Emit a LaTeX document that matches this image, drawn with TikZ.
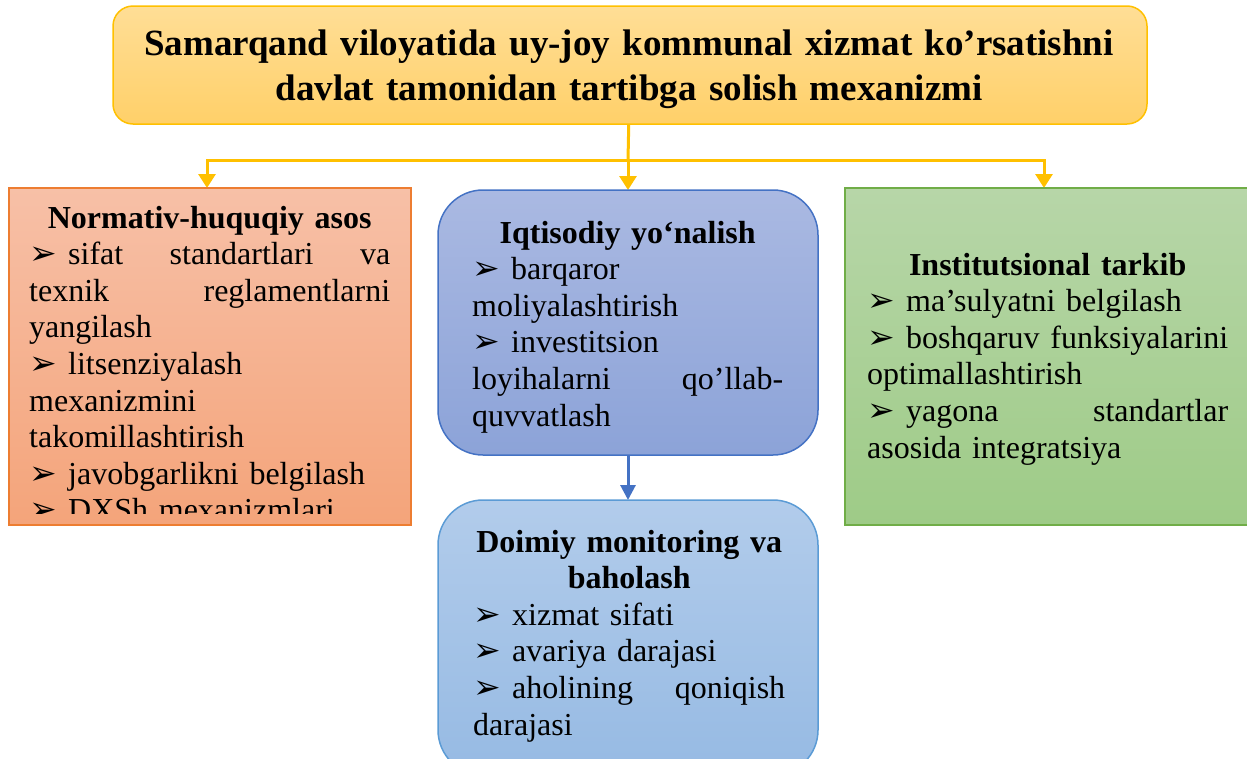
\documentclass[tikz,border=0pt]{standalone}
\usepackage{fontspec}
\setmainfont{Liberation Serif}
\newfontfamily\symfont{DejaVu Sans}
\usetikzlibrary{arrows.meta}
\pgfdeclarelayer{edgelayer}
\pgfdeclarelayer{nodelayer}
\pgfsetlayers{edgelayer,nodelayer,main}
\definecolor{gold}{RGB}{255,192,0}
\definecolor{headtop}{RGB}{255,222,150}
\definecolor{headbot}{RGB}{255,208,105}
\definecolor{orangeline}{RGB}{237,125,49}
\definecolor{orangetop}{RGB}{247,192,167}
\definecolor{orangebot}{RGB}{244,164,122}
\definecolor{blueline}{RGB}{68,114,196}
\definecolor{bluetop}{RGB}{170,185,226}
\definecolor{bluebot}{RGB}{140,163,216}
\definecolor{skyline}{RGB}{91,155,213}
\definecolor{skytop}{RGB}{178,204,235}
\definecolor{skybot}{RGB}{150,186,227}
\definecolor{greenline}{RGB}{112,173,71}
\definecolor{greentop}{RGB}{183,214,168}
\definecolor{greenbot}{RGB}{158,203,135}
\tikzstyle{none}=[inner sep=0pt]
\tikzstyle{head box}=[rectangle, rounded corners=20pt, draw=gold, line width=1.5pt, top color=headtop, bottom color=headbot]
\tikzstyle{orange box}=[rectangle, draw=orangeline, line width=1.5pt, top color=orangetop, bottom color=orangebot]
\tikzstyle{blue box}=[rectangle, rounded corners=45pt, draw=blueline, line width=1.5pt, top color=bluetop, bottom color=bluebot]
\tikzstyle{sky box}=[rectangle, rounded corners=45pt, draw=skyline, line width=1.5pt, top color=skytop, bottom color=skybot]
\tikzstyle{green box}=[rectangle, draw=greenline, line width=1.5pt, top color=greentop, bottom color=greenbot]
\tikzstyle{title text}=[inner sep=0pt, anchor=base, align=center, font=\fontsize{37}{45}\selectfont\bfseries]
\tikzstyle{body text}=[inner sep=0pt, anchor=base west, align=left, font=\fontsize{32}{36.6}\selectfont]
\tikzstyle{yellow line}=[draw=gold, line width=3pt, line cap=rect]
\tikzstyle{yellow arrow}=[-{Triangle[width=17pt,length=14pt]}, draw=gold, line width=3pt]
\tikzstyle{blue arrow}=[-{Triangle[width=15pt,length=15pt]}, draw=blueline, line width=3pt]
\newcommand{\bul}{\makebox[39pt][l]{\fontsize{33}{33}\symfont ➢}}
\newcommand{\boxhead}[1]{\makebox[\linewidth][c]{\bfseries #1}}

\begin{document}
\begin{tikzpicture}[x=1pt, y=-1pt]
	\useasboundingbox (0, 0) rectangle (1247, 758);
	\begin{pgfonlayer}{nodelayer}
		\node [style=head box, minimum width=1034pt, minimum height=118pt] (0) at (630, 65) {};
		\node [style=none] (1) at (628, 160) {};
		\node [style=none] (2) at (207, 160) {};
		\node [style=none] (3) at (1044, 160) {};
		\node [style=none] (4) at (207, 188) {};
		\node [style=none] (5) at (628, 190) {};
		\node [style=none] (6) at (1044, 188) {};
		\node [style=orange box, minimum width=402pt, minimum height=337pt] (7) at (210, 356.5) {};
		\node [style=blue box, minimum width=380pt, minimum height=265pt] (8) at (628, 322.5) {};
		\node [style=sky box, minimum width=380pt, minimum height=275pt] (9) at (628, 637.5) {};
		\node [style=green box, minimum width=410pt, minimum height=337pt] (10) at (1050, 356.5) {};
		\node [style=none] (11) at (628, 500) {};
		\node [style=title text, text width=1020pt] (12) at (629, 55) {Samarqand viloyatida uy-joy kommunal xizmat ko’rsatishni\\davlat tamonidan tartibga solish mexanizmi};
		\begin{scope}
			\clip (7.north west) rectangle ([yshift=12pt]7.south east);
			\node [style=body text, text width=361pt] (13) at (29, 228) {\boxhead{Normativ-huquqiy asos}\\
				\bul sifat\hfill standartlari\hfill va\\
				texnik\hfill reglamentlarni\\
				yangilash\\
				\bul litsenziyalash\\
				mexanizmini\\
				takomillashtirish\\
				\bul javobgarlikni belgilash\\
				\bul DXSh mexanizmlari};
		\end{scope}
		\node [style=body text, text width=311pt] (14) at (472, 243) {\boxhead{Iqtisodiy yo‘nalish}\\
			\bul barqaror\\
			moliyalashtirish\\
			\bul investitsion\\
			loyihalarni\hfill qo’llab-\\
			quvvatlash};
		\node [style=body text, text width=312pt] (15) at (473, 552) {\boxhead{Doimiy monitoring va}\\
			\boxhead{baholash}\\
			\bul xizmat sifati\\
			\bul avariya darajasi\\
			\bul aholining\hfill qoniqish\\
			darajasi};
		\node [style=body text, text width=361pt] (16) at (867, 275) {\boxhead{Institutsional tarkib}\\
			\bul ma’sulyatni belgilash\\
			\bul boshqaruv\hfill funksiyalarini\\
			optimallashtirish\\
			\bul yagona\hfill standartlar\\
			asosida integratsiya};
	\end{pgfonlayer}
	\begin{pgfonlayer}{edgelayer}
		\draw [style=yellow line] (0.center) to (1.center);
		\draw [style=yellow line] (2.center) to (3.center);
		\draw [style=yellow arrow] (2.center) to (4.center);
		\draw [style=yellow arrow] (1.center) to (5.center);
		\draw [style=yellow arrow] (3.center) to (6.center);
		\draw [style=blue arrow] (8.center) to (11.center);
	\end{pgfonlayer}
\end{tikzpicture}
\end{document}
